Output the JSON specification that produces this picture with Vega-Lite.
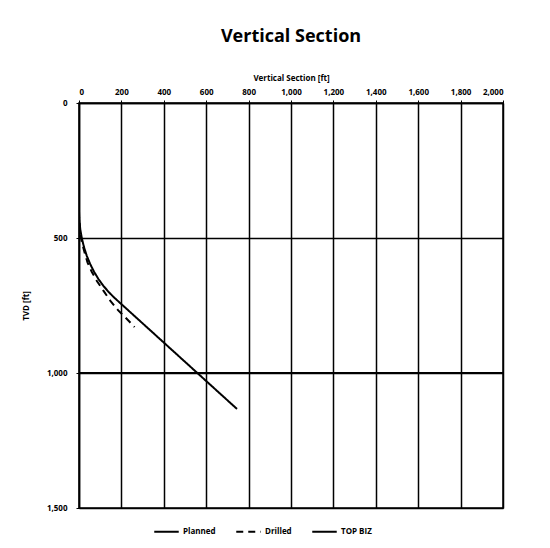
{
  "$schema": "https://vega.github.io/schema/vega-lite/v6.json",
  "width": 424,
  "height": 405,
  "autosize": "none",
  "padding": {"left": 79, "top": 103, "right": 47, "bottom": 40},
  "background": "white",
  "title": {"text": "Vertical Section", "font": "Open Sans", "fontSize": 18, "fontWeight": "bold", "color": "black", "offset": 28, "anchor": "middle"},
  "data": {"values": [
    {"s": "Planned", "i": 0, "vs": 0, "tvd": 0},
    {"s": "Planned", "i": 1, "vs": 0, "tvd": 400},
    {"s": "Planned", "i": 2, "vs": 1.5, "tvd": 434},
    {"s": "Planned", "i": 3, "vs": 6, "tvd": 468},
    {"s": "Planned", "i": 4, "vs": 13.4, "tvd": 501},
    {"s": "Planned", "i": 5, "vs": 23.6, "tvd": 534},
    {"s": "Planned", "i": 6, "vs": 36.7, "tvd": 566},
    {"s": "Planned", "i": 7, "vs": 52.5, "tvd": 596},
    {"s": "Planned", "i": 8, "vs": 71, "tvd": 625},
    {"s": "Planned", "i": 9, "vs": 91.7, "tvd": 652},
    {"s": "Planned", "i": 10, "vs": 114.8, "tvd": 677},
    {"s": "Planned", "i": 11, "vs": 140, "tvd": 700},
    {"s": "Planned", "i": 12, "vs": 165, "tvd": 720},
    {"s": "Planned", "i": 13, "vs": 745, "tvd": 1133},
    {"s": "Drilled", "i": 0, "vs": 0, "tvd": 0},
    {"s": "Drilled", "i": 1, "vs": 0, "tvd": 420},
    {"s": "Drilled", "i": 2, "vs": 5, "tvd": 470},
    {"s": "Drilled", "i": 3, "vs": 12, "tvd": 510},
    {"s": "Drilled", "i": 4, "vs": 25, "tvd": 550},
    {"s": "Drilled", "i": 5, "vs": 40, "tvd": 590},
    {"s": "Drilled", "i": 6, "vs": 60, "tvd": 625},
    {"s": "Drilled", "i": 7, "vs": 85, "tvd": 660},
    {"s": "Drilled", "i": 8, "vs": 115, "tvd": 695},
    {"s": "Drilled", "i": 9, "vs": 150, "tvd": 735},
    {"s": "Drilled", "i": 10, "vs": 185, "tvd": 768},
    {"s": "Drilled", "i": 11, "vs": 220, "tvd": 795},
    {"s": "Drilled", "i": 12, "vs": 262, "tvd": 830},
    {"s": "TOP BIZ", "i": 0, "vs": 0, "tvd": 1000},
    {"s": "TOP BIZ", "i": 1, "vs": 2000, "tvd": 1000}
  ]},
  "mark": {"type": "line", "clip": true},
  "encoding": {
    "x": {"field": "vs", "type": "quantitative",
      "scale": {"domain": [0, 2000], "nice": false},
      "axis": {"orient": "top", "values": [0,200,400,600,800,1000,1200,1400,1600,1800,2000], "format": ",d", "title": "Vertical Section [ft]",
        "titleFont": "Open Sans", "titleFontSize": 8, "titleFontWeight": "bold", "titleColor": "black", "titlePadding": 6,
        "labelFont": "Open Sans", "labelFontSize": 8, "labelFontWeight": "bold", "labelColor": "black",
        "grid": true, "gridColor": "black", "gridWidth": 1.5, "domainColor": "black", "domainWidth": 1.5, "tickColor": "black", "tickSize": 3, "labelPadding": 4}},
    "y": {"field": "tvd", "type": "quantitative",
      "scale": {"domain": [0, 1500], "reverse": true, "nice": false},
      "axis": {"values": [0, 500, 1000, 1500], "format": ",d", "title": "TVD [ft]",
        "titleFont": "Open Sans", "titleFontSize": 8, "titleFontWeight": "bold", "titleColor": "black", "titlePadding": 16,
        "labelFont": "Open Sans", "labelFontSize": 8, "labelFontWeight": "bold", "labelColor": "black", "labelPadding": 9,
        "grid": true, "gridColor": "black", "gridWidth": 1.5, "domainColor": "black", "domainWidth": 1.5, "tickColor": "black", "tickSize": 3}},
    "order": {"field": "i", "type": "quantitative"},
    "color": {"field": "s", "type": "nominal", "scale": {"domain": ["Planned", "Drilled", "TOP BIZ"], "range": ["black", "black", "black"]},
      "legend": {"orient": "none", "legendX": 74, "legendY": 415, "direction": "horizontal", "title": null, "symbolType": "stroke", "symbolSize": 600, "labelFont": "Open Sans", "labelFontSize": 8, "labelFontWeight": "bold", "labelColor": "black", "columnPadding": 16, "labelOffset": 3}},
    "strokeDash": {"field": "s", "type": "nominal", "scale": {"domain": ["Planned", "Drilled", "TOP BIZ"], "range": [[1, 0], [7, 5], [1, 0]]},
      "legend": {"orient": "none", "legendX": 74, "legendY": 415, "direction": "horizontal", "title": null, "symbolType": "stroke", "symbolSize": 600, "labelFont": "Open Sans", "labelFontSize": 8, "labelFontWeight": "bold", "labelColor": "black", "columnPadding": 16, "labelOffset": 3}},
    "strokeWidth": {"field": "s", "type": "nominal", "scale": {"domain": ["Planned", "Drilled", "TOP BIZ"], "range": [2, 2, 3]}, "legend": null}
  },
  "config": {"view": {"stroke": "black", "strokeWidth": 1.5}}
}
